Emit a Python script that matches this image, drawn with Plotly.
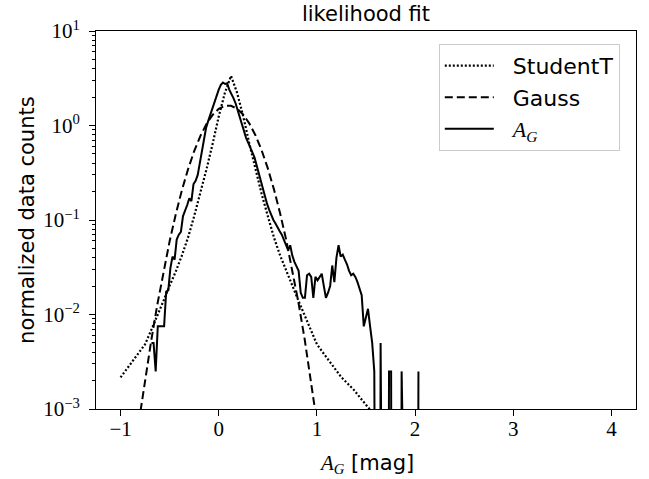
import numpy as np
import plotly.graph_objects as go

# ---------------- data ----------------
# model curves, sampled on a regular grid (x in mag)
fit_x = [-1.0, -0.9375, -0.875, -0.8125, -0.75, -0.6875, -0.625, -0.5625, -0.5,
         -0.4375, -0.375, -0.3125, -0.25, -0.1875, -0.125, -0.0625, 0.0, 0.0625,
         0.125, 0.1875, 0.25, 0.3125, 0.375, 0.4375, 0.5, 0.5625, 0.625, 0.6875,
         0.75, 0.8125, 0.875, 0.9375, 1.0, 1.0625, 1.125, 1.1875, 1.25, 1.3125,
         1.375, 1.4375, 1.5, 1.5625, 1.625, 1.6875, 1.75]

studentt_y = [2.16e-3, 2.66e-3, 3.2e-3, 3.94e-3, 4.84e-3, 6.84e-3, 9.66e-3, 0.01396,
              0.0202, 0.0285, 0.0422, 0.0653, 0.110, 0.188, 0.343, 0.638, 1.245, 2.21,
              3.35, 2.21, 1.245, 0.638, 0.343, 0.188, 0.110, 0.0653, 0.0422, 0.0285,
              0.0202, 0.01396, 9.66e-3, 6.84e-3, 4.84e-3, 3.94e-3, 3.2e-3, 2.66e-3,
              2.16e-3, 1.86e-3, 1.6e-3, 1.33e-3, 1.1e-3, 9.1e-4, 7.7e-4, 6.7e-4, 5.8e-4]

gauss_y = [2.2e-5, 7.7e-5, 2.5e-4, 7.4e-4, 2.06e-3, 5.3e-3, 0.0128, 0.0287, 0.0597,
           0.115, 0.207, 0.345, 0.536, 0.773, 1.037, 1.293, 1.498, 1.614, 1.616,
           1.505, 1.302, 1.048, 0.784, 0.545, 0.352, 0.211, 0.118, 0.0613, 0.0296,
           0.0133, 5.5e-3, 2.14e-3, 7.7e-4, 2.6e-4, 8.1e-5, 2.3e-5, 6.2e-6, 1.6e-6,
           3.6e-7, 8e-8, 1.6e-8, 2.9e-9, 5e-10, 8e-11, 1.2e-11]

# A_G histogram (normalized counts per bin)
bin_start = -0.685
bin_width = 0.02141
ag_counts = [0.005, 0.005, 0.0025, 0.0075, 0.0075, 0.0075, 0.0075, 0.0175, 0.018, 0.031,
             0.041, 0.038, 0.062, 0.070, 0.075, 0.110, 0.125, 0.144, 0.170, 0.158,
             0.240, 0.260, 0.300, 0.400, 0.560, 0.700, 0.950, 1.12, 1.30, 1.57,
             1.85, 2.10, 2.40, 2.70, 2.85, 2.75, 2.80, 2.40, 2.20, 1.95,
             1.72, 1.45, 1.25, 1.08, 0.88, 0.74, 0.66, 0.57, 0.52, 0.46,
             0.38, 0.31, 0.25, 0.21, 0.17, 0.148, 0.128, 0.112, 0.100, 0.092,
             0.085, 0.076, 0.070, 0.062, 0.055, 0.048, 0.054, 0.042, 0.036, 0.032,
             0.029, 0.017, 0.015, 0.015, 0.026, 0.027, 0.025, 0.015, 0.025, 0.023,
             0.025, 0.027, 0.020, 0.015, 0.017, 0.020, 0.033, 0.022, 0.040, 0.054,
             0.041, 0.043, 0.038, 0.034, 0.029, 0.026, 0.027, 0.025, 0.022, 0.019,
             0.016, 0.0075, 0.0095, 0.0115, 0.0075, 0.005, 0.0025, 0.0, 0.0, 0.005,
             0.0, 0.0, 0.0, 0.0025, 0.0025, 0.0, 0.0, 0.0, 0.0, 0.0025,
             0.0, 0.0, 0.0, 0.0, 0.0, 0.0, 0.0, 0.0025]

x_ticks = [-1, 0, 1, 2, 3, 4]
x_tick_labels = ["\u22121", "0", "1", "2", "3", "4"]
y_ticks = [1e-3, 1e-2, 1e-1, 1e0, 1e1]
y_tick_labels = ["10<sup>\u22123</sup>", "10<sup>\u22122</sup>", "10<sup>\u22121</sup>",
                 "10<sup>0</sup>", "10<sup>1</sup>"]

# ---------------- figure ----------------
ag_x = bin_start + bin_width * np.arange(len(ag_counts))
# zero counts fall off the bottom of a log axis (as matplotlib clips them)
ag_plot = [v if v > 0 else 1e-12 for v in ag_counts]

SANS = "DejaVu Sans, sans-serif"
SERIF = "Liberation Serif, Times New Roman, serif"
GAP = "\u00a0\u00a0"
AG = "<span style='font-family:Liberation Serif'><i>A</i><sub><i>G</i></sub></span>"

fig = go.Figure()
fig.add_trace(go.Scatter(x=fit_x, y=studentt_y, mode="lines", name=GAP + "StudentT",
                         line=dict(color="black", width=2.2, dash="2px,2px")))
fig.add_trace(go.Scatter(x=fit_x, y=gauss_y, mode="lines", name=GAP + "Gauss",
                         line=dict(color="black", width=2, dash="8px,4px")))
fig.add_trace(go.Scatter(x=ag_x, y=ag_plot, mode="lines", name=GAP + AG,
                         line=dict(color="black", width=2)))

minor_vals = [m * 10.0 ** k for k in range(-3, 1) for m in range(2, 10)]

fig.update_layout(
    width=649, height=479,
    margin=dict(l=96, r=13, t=31, b=70, autoexpand=False),
    paper_bgcolor="white", plot_bgcolor="white",
    title=dict(text="likelihood fit", x=0.5, xref="paper", y=0.972, yref="container",
               xanchor="center", yanchor="middle",
               font=dict(family=SANS, size=21, color="black")),
    showlegend=True,
    legend=dict(x=0.970, y=0.966, xanchor="right", yanchor="top",
                bgcolor="rgba(255,255,255,0.8)", bordercolor="#cccccc", borderwidth=1,
                font=dict(family=SANS, size=22, color="black"), itemwidth=49,
                tracegroupgap=0),
    xaxis=dict(range=[-1.25, 4.25], tickvals=x_ticks, ticktext=x_tick_labels,
               automargin=False,
               showgrid=False, zeroline=False, showline=True, linecolor="black",
               linewidth=1, mirror=True, ticks="outside", ticklen=6, tickcolor="black",
               ticklabelstandoff=-5,
               tickfont=dict(family=SERIF, size=21, color="black")),
    yaxis=dict(type="log", range=[-3, 1], tickvals=y_ticks, ticktext=y_tick_labels,
               automargin=False,
               showgrid=False, zeroline=False, showline=True, linecolor="black",
               linewidth=1, mirror=True, ticks="outside", ticklen=6, tickcolor="black",
               ticklabelstandoff=5,
               tickfont=dict(family=SERIF, size=21, color="black"),
               minor=dict(tickvals=minor_vals, ticks="outside", ticklen=3,
                          tickcolor="black", showgrid=False)),
    annotations=[
        dict(text=AG + " [mag]", x=0.5, y=-0.145, xref="paper", yref="paper",
             xanchor="center", yanchor="middle", showarrow=False,
             font=dict(family=SANS, size=21, color="black")),
        dict(text="normalized data counts", x=-0.128, y=0.5, xref="paper", yref="paper",
             xanchor="center", yanchor="middle", showarrow=False, textangle=-90,
             font=dict(family=SANS, size=21, color="black")),
    ],
)

# the page's default 8px body margin would shift the figure; remove it
fig.write_html("out.html", config={"displayModeBar": False},
               post_script="document.body.style.margin='0px';")
